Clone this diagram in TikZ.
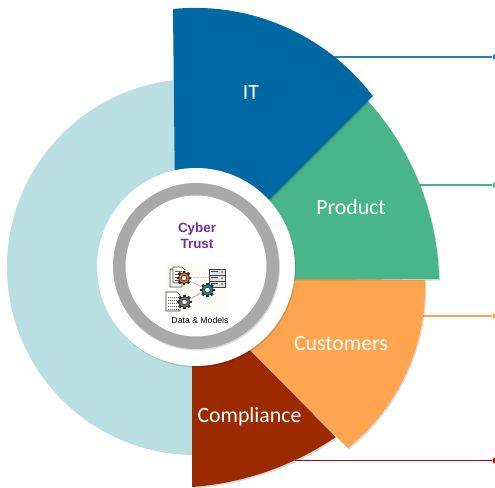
\documentclass[tikz,border=0pt]{standalone}
\usepackage{fontspec}
\setmainfont{Carlito}
\newfontfamily\helv{Liberation Sans}
\definecolor{itblue}{HTML}{0069A3}
\definecolor{prodgreen}{HTML}{48B68A}
\definecolor{custorange}{HTML}{FFA54F}
\definecolor{compred}{HTML}{9C2A00}
\definecolor{paleblue}{HTML}{B9DFE3}
\definecolor{ringgray}{HTML}{A9A9A9}
\definecolor{cyberpurple}{HTML}{7030A0}
\definecolor{gearorange}{HTML}{D9622B}
\definecolor{gearteal}{HTML}{1F7F8F}
\definecolor{geargray}{HTML}{6E6E6E}
\definecolor{iconbg}{HTML}{FDFCF6}
\tikzset{
  x=1pt,y=1pt,
  softshadow/.style={preaction={fill=black,opacity=.14,transform canvas={shift={(1pt,-1.5pt)}}}},
  wedge/.style={softshadow},
  wedgelabel/.style={text=white,font=\fontsize{21.8}{24}\selectfont,inner sep=0pt},
  leader/.style={line width=1.1pt},
  leaderdot/.style={circle,inner sep=0pt,minimum size=6pt},
  icondash/.style={densely dotted,line width=.45pt,black!70},
  docsheet/.style={draw=black!75,fill=white,line width=.6pt},
  pics/cog/.style={code={
    \foreach \a in {0,45,...,315}{\draw[line width=2.6pt,black!85] (\a:4.5)--(\a:7.4);}
    \fill[#1,draw=black!85,line width=.6pt] (0,0) circle[radius=5.6];
    \fill[white,draw=black!85,line width=.5pt] (0,0) circle[radius=2.7];
  }}
}
\begin{document}
\begin{tikzpicture}
\useasboundingbox (0,0) rectangle (495,487);
\clip (0,0) rectangle (495,487);
% pale disc
\fill[paleblue] (195,220) circle[radius=188];
% leader lines
\node[leaderdot,fill=itblue!85] (dit) at (495.5,430) {};
\node[leaderdot,fill=prodgreen] (dprod) at (495.5,302) {};
\node[leaderdot,fill=custorange] (dcust) at (495.5,171) {};
\node[leaderdot,fill=red!75!black] (dcomp) at (495.5,26.5) {};
\coordinate (sit) at (320,430);
\coordinate (sprod) at (410,302);
\coordinate (scust) at (410,171);
\coordinate (scomp) at (295,26.5);
\draw[leader,itblue!85] (sit) -- (dit);
\draw[leader,prodgreen] (sprod) -- (dprod);
\draw[leader,custorange] (scust) -- (dcust);
\draw[leader,red!75!black] (scomp) -- (dcomp);
% wedges
\path[wedge,fill=compred] (192,0) arc[start angle=-85.8,end angle=-55.9,radius=295] -- (240,147) -- (192,147) -- cycle;
\path[wedge,fill=custorange] (425,207) arc[start angle=1.95,end angle=-51.3,radius=206.3] -- (240,147) -- (240,209) -- cycle;
\path[wedge,fill=prodgreen] (367,387) arc[start angle=42.4,end angle=1.45,radius=276] -- (230,208) -- (230,248) -- cycle;
\path[wedge,fill=itblue] (173,478) arc[start angle=95.7,end angle=37.2,radius=223] -- (176,194) -- cycle;
% hub
\path[softshadow,fill=white] (196,220) circle[radius=99];
\path[softshadow,fill=ringgray] (196,221) circle[radius=83];
\path[fill=white] (196,221) circle[radius=70.5];
% labels
\node[wedgelabel] (it) at (251,394) {IT};
\node[wedgelabel] (product) at (351,280) {Product};
\node[wedgelabel] (customers) at (341,143) {Customers};
\node[wedgelabel] (compliance) at (249.5,70.5) {Compliance};
\node[text=cyberpurple,font=\helv\bfseries\fontsize{13.4}{16}\selectfont,align=center,inner sep=0pt] (cyber) at (197,251) {Cyber\\Trust};
\node[font=\helv\fontsize{8.7}{10}\selectfont,inner sep=0pt] (data) at (200,167) {Data \& Models};
% icon
\fill[iconbg] (165,174) rectangle (228,224);
\draw[icondash] (184,209)--(216,210) (184,209)--(207.5,197) (184.5,185)--(207.5,197) (184.5,185)--(216,203);
\draw[docsheet] (170,218)--(179,218)--(182,215)--(182,200)--(170,200)--cycle;
\draw[docsheet] (173,220)--(182,220)--(185,217)--(185,204)--(173,204)--cycle;
\foreach \yy in {216,213,210,207}{\draw[black!60,line width=.4pt] (175,\yy)--(182,\yy);}
\draw[docsheet] (166,195)--(177,195)--(180,192)--(180,176)--(166,176)--cycle;
\foreach \yy in {178,181,184,187,190}{\draw[black!65,line width=.9pt,densely dotted] (168,\yy)--(178,\yy);}
\pic at (184,209) {cog=gearorange};
\pic at (184.5,185) {cog=geargray};
\foreach \yy in {215,209,203}{
  \draw[draw=black!75,fill=black!12,line width=.5pt] (209,\yy-3) rectangle (225,\yy+3);
  \draw[black!70,line width=1pt] (211,\yy)--(218,\yy);
  \fill[black!70] (222,\yy) circle[radius=.9];
}
\pic at (207.5,197) {cog=gearteal};
\end{tikzpicture}
\end{document}
